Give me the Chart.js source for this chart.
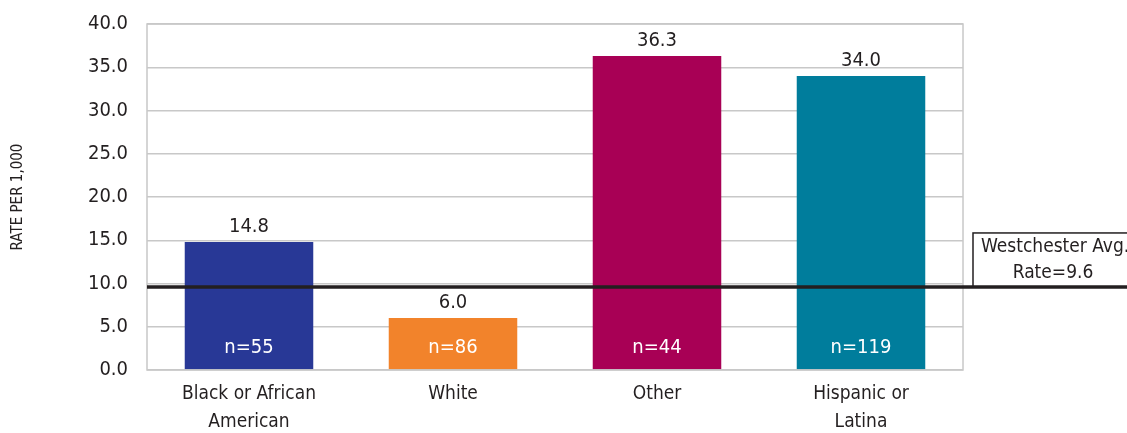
<!DOCTYPE html>
<html>
<head>
<meta charset="utf-8">
<script src="https://cdn.jsdelivr.net/npm/chart.js@4"></script>
<style>
  html, body { margin: 0; padding: 0; background: #fff; }
  #wrap { width: 1127px; height: 433px; position: relative; }
</style>
</head>
<body>
<div id="wrap"><canvas id="rateChart"></canvas></div>
<script>
const categories = [['Black or African', 'American'], 'White', 'Other', ['Hispanic or', 'Latina']];
const rates = [14.8, 6.0, 36.3, 34.0];
const counts = ['n=55', 'n=86', 'n=44', 'n=119'];
const barColors = ['#283896', '#F2832B', '#A80055', '#007D9C'];
const avgRate = 9.6;
const avgLabel = ['Westchester Avg.', 'Rate=9.6'];

const FONT = "'Liberation Sans Narrow', 'DejaVu Sans Condensed', 'Roboto Condensed', sans-serif";
const TEXT = '#231f20';

// value above bar, n= inside at the bottom
const barLabels = {
  id: 'barLabels',
  afterDatasetsDraw(chart) {
    const ctx = chart.ctx;
    const meta = chart.getDatasetMeta(0);
    const y0 = chart.scales.y.getPixelForValue(0);
    ctx.save();
    ctx.font = '20px ' + FONT;
    ctx.textAlign = 'center';
    meta.data.forEach((bar, i) => {
      ctx.fillStyle = TEXT;
      ctx.textBaseline = 'bottom';
      ctx.fillText(rates[i].toFixed(1), bar.x, bar.y - 5);
      ctx.fillStyle = '#fff';
      ctx.textBaseline = 'middle';
      ctx.fillText(counts[i], bar.x, y0 - 22);
    });
    ctx.restore();
  }
};

// grey frame, average line and its label box
const avgLine = {
  id: 'avgLine',
  afterDatasetsDraw(chart) {
    const ctx = chart.ctx;
    const area = chart.chartArea;
    const y = chart.scales.y.getPixelForValue(avgRate);
    ctx.save();
    ctx.strokeStyle = '#c8c8c8';
    ctx.lineWidth = 1.5;
    ctx.strokeRect(area.left, area.top, area.right - area.left, area.bottom - area.top);

    ctx.strokeStyle = TEXT;
    ctx.lineWidth = 1.5;
    const bx = area.right + 10;
    ctx.strokeRect(bx, y - 54, chart.width - bx + 5, 54);

    ctx.lineWidth = 3.5;
    ctx.beginPath();
    ctx.moveTo(area.left, y);
    ctx.lineTo(chart.width, y);
    ctx.stroke();

    ctx.fillStyle = TEXT;
    ctx.font = '19px ' + FONT;
    ctx.textBaseline = 'middle';
    ctx.textAlign = 'left';
    ctx.fillText(avgLabel[0], bx + 8, y - 40);
    ctx.textAlign = 'center';
    ctx.fillText(avgLabel[1], bx + 80, y - 14);
    ctx.restore();
  }
};

const ctx = document.getElementById('rateChart').getContext('2d');
const rateChart = new Chart(ctx, {
  type: 'bar',
  data: {
    labels: categories,
    datasets: [
      {
        data: rates,
        backgroundColor: barColors,
        barPercentage: 0.63,
        categoryPercentage: 1.0
      }
    ]
  },
  options: {
    responsive: true,
    maintainAspectRatio: false,
    animation: false,
    layout: {
      padding: { top: 24, right: 164, bottom: 0, left: 0 }
    },
    plugins: {
      legend: { display: false },
      tooltip: { enabled: false }
    },
    scales: {
      x: {
        grid: { display: false },
        border: { display: false },
        afterFit: s => { s.height = 63; s.paddingLeft = 0; s.paddingRight = 0; },
        ticks: {
          color: TEXT,
          font: { family: FONT, size: 19, lineHeight: 1.47 },
          padding: 2,
          maxRotation: 0
        }
      },
      y: {
        min: 0,
        max: 40,
        grid: { color: '#c8c8c8', lineWidth: 1.5, drawTicks: false },
        border: { display: false },
        afterFit: s => { s.width = 147; s.paddingTop = 0; s.paddingBottom = 0; },
        ticks: {
          stepSize: 5,
          color: TEXT,
          font: { family: FONT, size: 20 },
          padding: 19,
          callback: v => v.toFixed(1)
        },
        title: {
          display: true,
          text: 'RATE PER 1,000',
          color: TEXT,
          font: { family: FONT, size: 15 },
          padding: { top: 9, bottom: 0 }
        }
      }
    }
  },
  plugins: [barLabels, avgLine]
});
</script>
</body>
</html>
